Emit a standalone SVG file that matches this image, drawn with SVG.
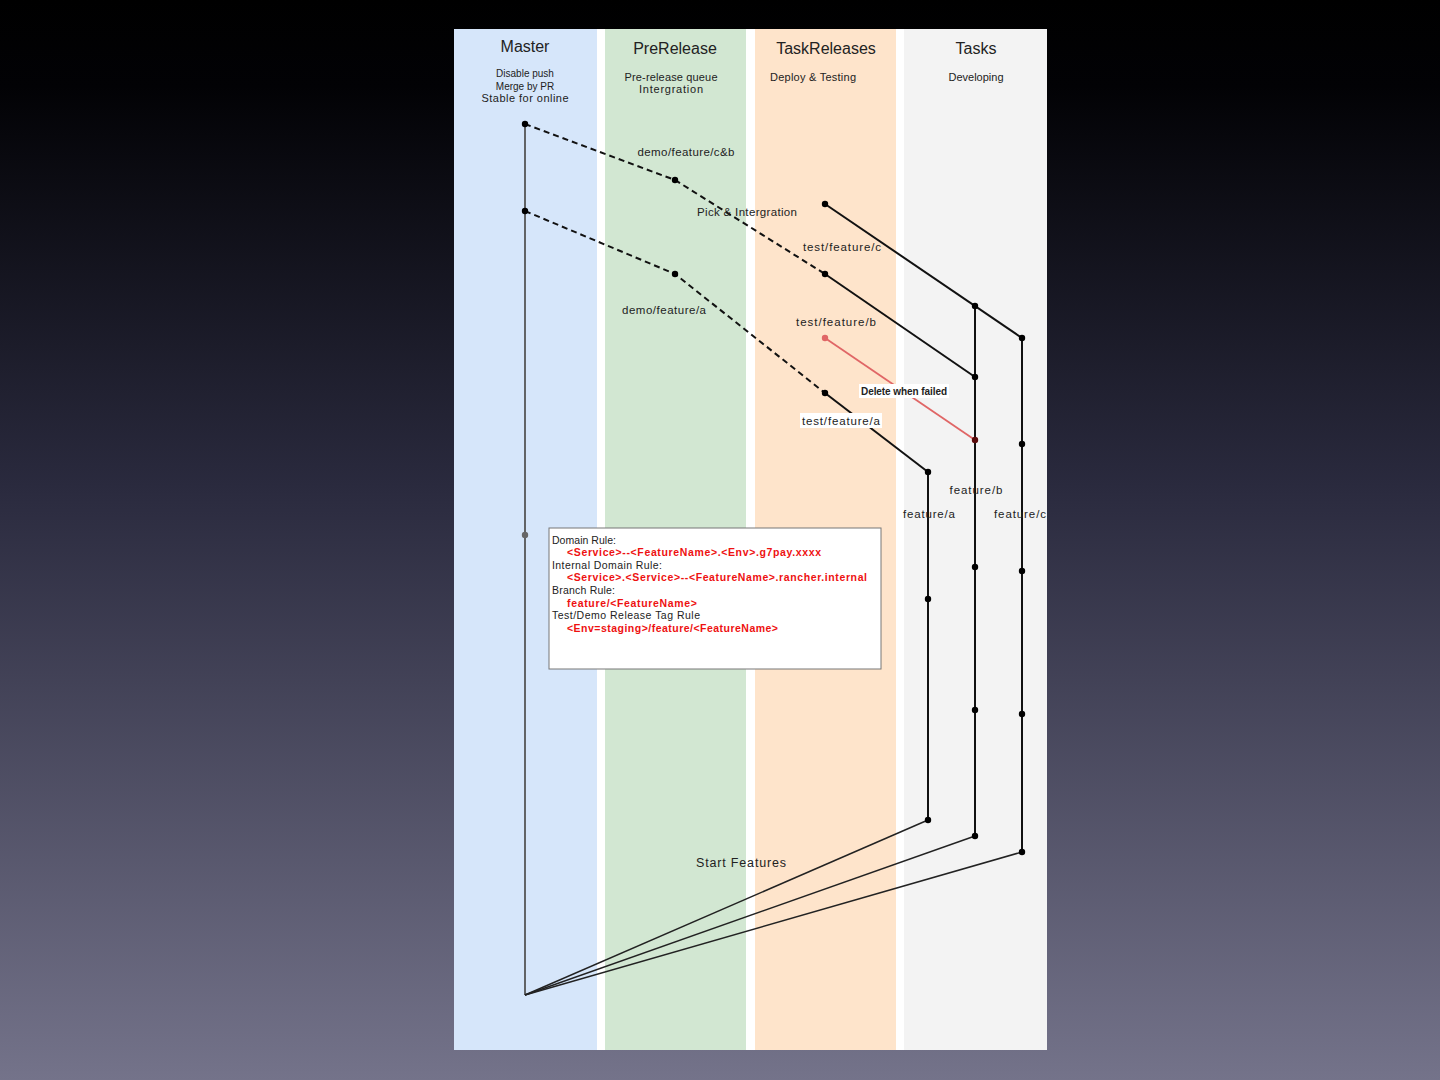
<svg xmlns="http://www.w3.org/2000/svg" width="1440" height="1080" viewBox="0 0 1440 1080">
<defs>
<linearGradient id="bg" x1="0" y1="0" x2="0" y2="1">
<stop offset="0" stop-color="#000000"/>
<stop offset="0.08" stop-color="#020205"/>
<stop offset="0.45" stop-color="#2a2a3e"/>
<stop offset="1" stop-color="#74738a"/>
</linearGradient>
<style>
text{font-family:"Liberation Sans","DejaVu Sans",sans-serif;fill:#222}
.title{font-size:16px;text-anchor:middle}
.sub{font-size:11px;text-anchor:middle}
.lbl{font-size:11.5px;text-anchor:middle}
.box{font-size:10.5px}
.red{fill:#ee1111;font-weight:bold}
.dash{fill:none;stroke:#111;stroke-width:2;stroke-dasharray:6 4}
.solid{fill:none;stroke:#111;stroke-width:2}
.dot{fill:#000}
</style>
</defs>
<rect width="1440" height="1080" fill="url(#bg)"/>
<rect x="454" y="29" width="593" height="1021" fill="#ffffff"/>
<g id="lanes">
<g id="lane-master"><rect x="454" y="29" width="143" height="1021" fill="#d6e6fa"/>
<text class="title" x="525" y="52">Master</text>
<text class="sub" x="525" y="77" style="font-size:10px">Disable push</text>
<text class="sub" x="525" y="90" style="font-size:10px">Merge by PR</text>
<text class="sub" x="525" y="102" textLength="87">Stable for online</text></g>
<g id="lane-prerelease"><rect x="605" y="29" width="141" height="1021" fill="#d2e7d2"/>
<text class="title" x="675" y="54">PreRelease</text>
<text class="sub" x="671" y="81" textLength="93">Pre-release queue</text>
<text class="sub" x="671" y="93" textLength="64">Intergration</text></g>
<g id="lane-taskreleases"><rect x="755" y="29" width="141" height="1021" fill="#fee4cb"/>
<text class="title" x="826" y="54">TaskReleases</text>
<text class="sub" x="813" y="81" textLength="86">Deploy &amp; Testing</text></g>
<g id="lane-tasks"><rect x="904" y="29" width="143" height="1021" fill="#f3f3f3"/>
<text class="title" x="976" y="54">Tasks</text>
<text class="sub" x="976" y="81">Developing</text></g>
</g>
<g id="connectors">
<line x1="525" y1="124" x2="525" y2="995" stroke="#555" stroke-width="1.8"/>
<polyline class="dash" points="525,124 675,180 825,274"/>
<polyline class="dash" points="525,211 675,274 825,393"/>
<line class="solid" x1="825" y1="204" x2="1022" y2="338"/>
<line class="solid" x1="825" y1="274" x2="975" y2="377"/>
<line x1="825" y1="338" x2="975" y2="440" stroke="#e06666" stroke-width="1.8"/>
<line class="solid" x1="825" y1="393" x2="928" y2="472"/>
<line class="solid" x1="928" y1="472" x2="928" y2="820"/>
<line class="solid" x1="975" y1="306" x2="975" y2="836"/>
<line class="solid" x1="1022" y1="338" x2="1022" y2="852"/>
<line x1="525" y1="995" x2="928" y2="820" stroke="#222" stroke-width="1.5"/>
<line x1="525" y1="995" x2="975" y2="836" stroke="#222" stroke-width="1.5"/>
<line x1="525" y1="995" x2="1022" y2="852" stroke="#222" stroke-width="1.5"/>
</g>
<g id="nodes">
<g id="m1"><circle class="dot" cx="525" cy="124" r="3.2"/></g>
<g id="m2"><circle class="dot" cx="525" cy="211" r="3.2"/></g>
<g id="m3"><circle cx="525" cy="535" r="3.2" fill="#666"/></g>
<g id="demo-cb"><circle class="dot" cx="675" cy="180" r="3.2"/><text class="lbl" x="686" y="156" textLength="97">demo/feature/c&amp;b</text></g>
<g id="pick"><text class="lbl" x="747" y="216" textLength="100">Pick &amp; Intergration</text></g>
<g id="demo-a"><circle class="dot" cx="675" cy="274" r="3.2"/><text class="lbl" x="664" y="314" textLength="84">demo/feature/a</text></g>
<g id="test-c"><circle class="dot" cx="825" cy="204" r="3.2"/><text class="lbl" x="842" y="251" textLength="78">test/feature/c</text></g>
<g id="test-cb"><circle class="dot" cx="825" cy="274" r="3.2"/></g>
<g id="test-b"><circle cx="825" cy="338" r="3.2" fill="#e06666"/><text class="lbl" x="836" y="326" textLength="80">test/feature/b</text></g>
<g id="delete"><rect x="859" y="384" width="90" height="14" fill="#fff"/><text class="lbl" x="904" y="395" style="font-size:10px;font-weight:bold" textLength="86">Delete when failed</text></g>
<g id="test-a"><rect x="800" y="413" width="82" height="15" fill="#fff"/><circle class="dot" cx="825" cy="393" r="3.2"/><text class="lbl" x="841" y="425" textLength="78">test/feature/a</text></g>
<g id="feature-a"><circle class="dot" cx="928" cy="472" r="3.2"/><circle class="dot" cx="928" cy="599" r="3.2"/><circle class="dot" cx="928" cy="820" r="3.2"/><text class="lbl" x="929" y="518" textLength="52">feature/a</text></g>
<g id="feature-b"><circle class="dot" cx="975" cy="306" r="3.2"/><circle class="dot" cx="975" cy="377" r="3.2"/><circle cx="975" cy="440" r="3.2" fill="#5a0a0a"/><circle class="dot" cx="975" cy="567" r="3.2"/><circle class="dot" cx="975" cy="710" r="3.2"/><circle class="dot" cx="975" cy="836" r="3.2"/><text class="lbl" x="976" y="494" textLength="53">feature/b</text></g>
<g id="feature-c"><circle class="dot" cx="1022" cy="338" r="3.2"/><circle class="dot" cx="1022" cy="444" r="3.2"/><circle class="dot" cx="1022" cy="571" r="3.2"/><circle class="dot" cx="1022" cy="714" r="3.2"/><circle class="dot" cx="1022" cy="852" r="3.2"/><text class="lbl" x="1020" y="518" textLength="52">feature/c</text></g>
<g id="start"><text class="lbl" x="741" y="867" style="font-size:12.5px" textLength="90">Start Features</text></g>
<g id="rules">
<rect x="549" y="528" width="332" height="141" fill="#fff" stroke="#777" stroke-width="1"/>
<text class="box" x="552" y="544" textLength="64">Domain Rule:</text>
<text class="box red" x="567" y="556" textLength="254">&lt;Service&gt;--&lt;FeatureName&gt;.&lt;Env&gt;.g7pay.xxxx</text>
<text class="box" x="552" y="569" textLength="110">Internal Domain Rule:</text>
<text class="box red" x="567" y="581" textLength="300">&lt;Service&gt;.&lt;Service&gt;--&lt;FeatureName&gt;.rancher.internal</text>
<text class="box" x="552" y="594" textLength="63">Branch Rule:</text>
<text class="box red" x="567" y="607" textLength="130">feature/&lt;FeatureName&gt;</text>
<text class="box" x="552" y="619" textLength="148">Test/Demo Release Tag Rule</text>
<text class="box red" x="567" y="632" textLength="211">&lt;Env=staging&gt;/feature/&lt;FeatureName&gt;</text>
</g>
</g>
</svg>
